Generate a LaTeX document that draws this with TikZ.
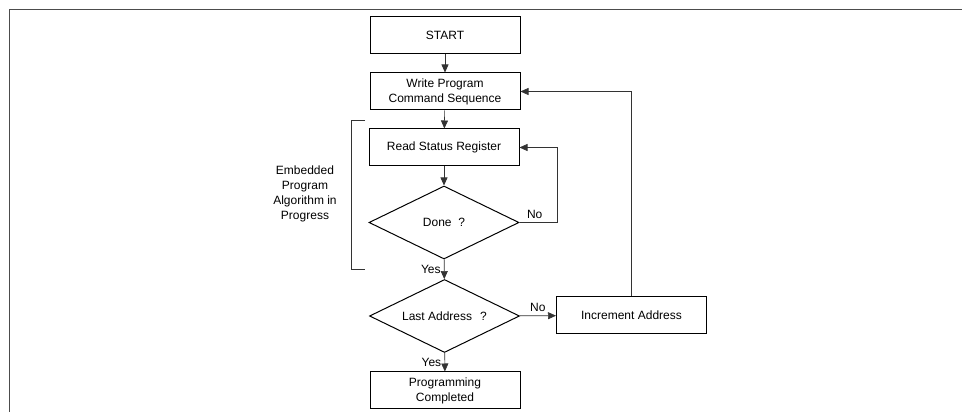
\documentclass[tikz,border=0pt]{standalone}
\usepackage{fontspec}
\setmainfont{Liberation Sans}
\usepackage{tikz}
\usetikzlibrary{arrows.meta,shapes.geometric}

\begin{document}
\begin{tikzpicture}[x=1pt,y=1pt,
  font=\fontsize{12}{15}\selectfont,
  >={Triangle[length=8pt,width=7pt]},
  box/.style={draw,line width=1pt,minimum width=150pt,minimum height=37pt,inner sep=0pt,align=center},
  test/.style={draw,diamond,aspect=2,line width=1pt,minimum width=150pt,minimum height=73pt,inner sep=0pt},
  flow/.style={->,line width=0.6pt,black!80},
  answer/.style={text=black}]
\useasboundingbox (0,0) rectangle (962,412);
\draw[line width=1.2pt,black!70] (962,402.5) -- (9.5,402.5) -- (9.5,0);
\node[box] (start) at (445,376.5) {START};
\node[box] (write) at (445,320.5) {Write Program\\Command Sequence};
\node[box] (read) at (444,264.5) {Read Status Register};
\node[test] (done) at (444,189.5) {Done\ \ ?};
\node[test] (last) at (444.5,96) {Last Address\hspace{8pt}?};
\node[box] (incr) at (631.5,96.5) {Increment Address};
\node[box] (prog) at (445,21.5) {Programming\\Completed};
\node[align=center] (embed) at (305,218) {Embedded\\Program\\Algorithm in\\Progress};
% bracket
\draw[line width=0.6pt,black!80] (365,292) -| (351,143) -- (365,143);
\draw[flow] (start) -- (write);
\draw[flow] (write) -- (read);
\draw[flow] (read) -- (done);
\draw[flow] (done.east) -- node[answer,pos=0.4,above]{No} ++(38,0) |- (read.east);
\draw[flow] (done) -- node[answer,midway,left]{Yes} (last);
\draw[flow] (last) -- node[answer,midway,above]{No} (incr);
\draw[flow] (incr.north) |- (write.east);
\draw[flow] (last) -- node[answer,midway,left]{Yes} (prog);
\end{tikzpicture}
\end{document}
